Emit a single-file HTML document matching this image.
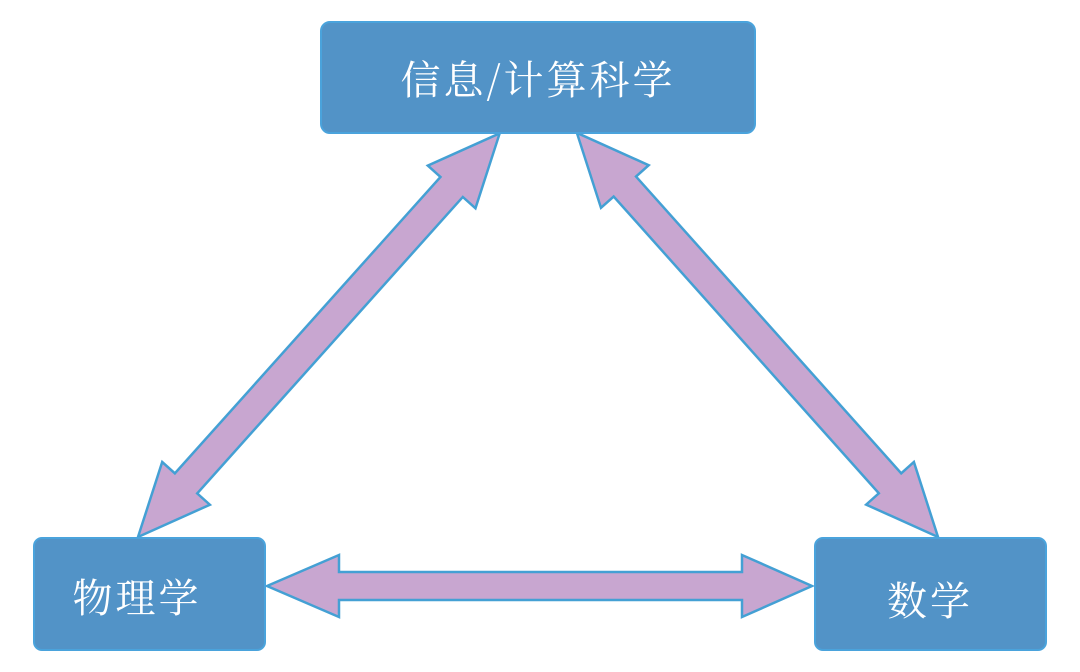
<!DOCTYPE html>
<html><head><meta charset="utf-8"><style>
html,body{margin:0;padding:0;background:#fff;width:1080px;height:672px;overflow:hidden}
</style></head><body>
<svg width="1080" height="672" xmlns="http://www.w3.org/2000/svg">
<g fill="#c8a6d0" stroke="#44a0d4" stroke-width="2.5" stroke-linejoin="miter">
<polygon points="267,586 339,555 339,572 742,572 742,555 812,586 742,617 742,600 339,600 339,617"/>
<g transform="translate(138,537) rotate(-48.14)">
<polygon points="0,0 72,-32 72,-15 470,-15 470,-32 542,0 470,32 470,15 72,15 72,32"/>
</g>
<g transform="translate(938,537) rotate(-131.78)">
<polygon points="0,0 72,-32 72,-15 470,-15 470,-32 542,0 470,32 470,15 72,15 72,32"/>
</g>
</g>
<g fill="#5293c7" stroke="#4aa3dc" stroke-width="2">
<rect x="321" y="22" width="434" height="111" rx="9"/>
<rect x="34" y="538" width="231" height="112" rx="8"/>
<rect x="815" y="538" width="231" height="112" rx="8"/>
</g>
<g fill="#fff" font-family="'Noto Serif CJK SC',serif" font-size="40" text-anchor="middle">
<text x="538" y="94" letter-spacing="3">信息/计算科学</text>
<text x="137" y="612" letter-spacing="3">物理学</text>
<text x="930" y="615" letter-spacing="3">数学</text>
</g>
</svg>
</body></html>
